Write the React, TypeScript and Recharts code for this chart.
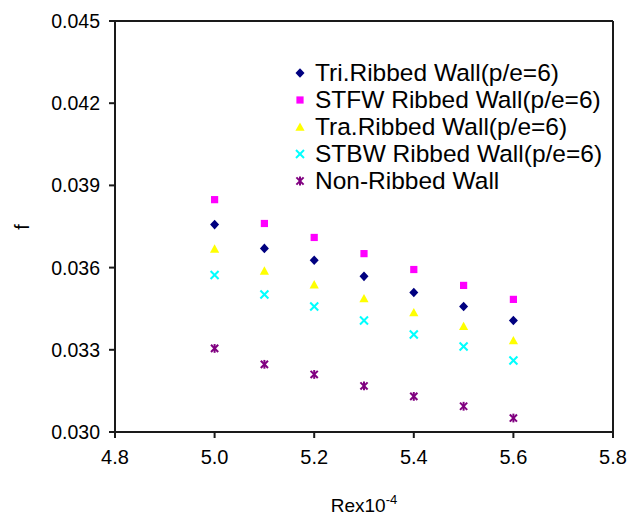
import React from "react";
import {
  ScatterChart,
  Scatter,
  XAxis,
  YAxis,
  Label,
  ReferenceLine,
} from "recharts";

// Re x 10^-4 values shared by every series
const reynolds = [5.0, 5.1, 5.2, 5.3, 5.4, 5.5, 5.6];

// friction factor f per wall type
const triRibbed = [0.03757, 0.0367, 0.03627, 0.03568, 0.03509, 0.03458, 0.03407];
const stfwRibbed = [0.03848, 0.03761, 0.0371, 0.03651, 0.03593, 0.03535, 0.03484];
const traRibbed = [0.03668, 0.03588, 0.03538, 0.03487, 0.03436, 0.03386, 0.03334];
const stbwRibbed = [0.03573, 0.03502, 0.03458, 0.03407, 0.03356, 0.03312, 0.03261];
const nonRibbed = [0.03305, 0.03247, 0.0321, 0.03168, 0.0313, 0.03094, 0.03051];

const xTicks = [4.8, 5.0, 5.2, 5.4, 5.6, 5.8];
const yTicks = [0.03, 0.033, 0.036, 0.039, 0.042, 0.045];

const FONT = "'Liberation Sans', Arial, sans-serif";
const AXIS = "#1a1a1a";

type ShapeKind = "diamond" | "square" | "triangle" | "x" | "asterisk";

function Marker({ kind, cx, cy, color }: { kind: ShapeKind; cx: number; cy: number; color: string }) {
  switch (kind) {
    case "diamond":
      return (
        <polygon
          points={`${cx},${cy - 4.8} ${cx + 4.5},${cy} ${cx},${cy + 4.8} ${cx - 4.5},${cy}`}
          fill={color}
        />
      );
    case "square":
      return <rect x={cx - 3.6} y={cy - 3.6} width={7.2} height={7.2} fill={color} />;
    case "triangle":
      return (
        <polygon
          points={`${cx},${cy - 4.6} ${cx + 4.6},${cy + 3.8} ${cx - 4.6},${cy + 3.8}`}
          fill={color}
        />
      );
    case "x":
      return (
        <g stroke={color} strokeWidth={2}>
          <line x1={cx - 4} y1={cy - 4} x2={cx + 4} y2={cy + 4} />
          <line x1={cx - 4} y1={cy + 4} x2={cx + 4} y2={cy - 4} />
        </g>
      );
    default:
      return (
        <g stroke={color} strokeWidth={2}>
          <line x1={cx - 3.6} y1={cy - 3.6} x2={cx + 3.6} y2={cy + 3.6} />
          <line x1={cx - 3.6} y1={cy + 3.6} x2={cx + 3.6} y2={cy - 3.6} />
          <line x1={cx} y1={cy - 4.4} x2={cx} y2={cy + 4.4} />
        </g>
      );
  }
}

const series: { name: string; color: string; kind: ShapeKind; values: number[] }[] = [
  { name: "Tri.Ribbed Wall(p/e=6)", color: "#000080", kind: "diamond", values: triRibbed },
  { name: "STFW Ribbed Wall(p/e=6)", color: "#FF00FF", kind: "square", values: stfwRibbed },
  { name: "Tra.Ribbed Wall(p/e=6)", color: "#FFFF00", kind: "triangle", values: traRibbed },
  { name: "STBW Ribbed Wall(p/e=6)", color: "#00FFFF", kind: "x", values: stbwRibbed },
  { name: "Non-Ribbed Wall", color: "#800080", kind: "asterisk", values: nonRibbed },
];

// legend overlaid inside the plot area, top right
function LegendBox() {
  return (
    <div
      style={{
        position: "absolute",
        left: 293,
        top: 59,
        fontFamily: FONT,
        fontSize: 24.5,
        color: "#000",
      }}
    >
      {series.map((s) => (
        <div key={s.name} style={{ display: "flex", alignItems: "center", height: 27, whiteSpace: "nowrap" }}>
          <svg width={14} height={14} style={{ marginRight: 8 }}>
            <Marker kind={s.kind} cx={7} cy={7} color={s.color} />
          </svg>
          <span style={{ lineHeight: "27px" }}>{s.name}</span>
        </div>
      ))}
    </div>
  );
}

export default function App() {
  return (
    <div style={{ position: "absolute", left: 0, top: 0, width: 629, height: 519, background: "#fff" }}>
      <ScatterChart width={629} height={519} margin={{ top: 21, right: 16, bottom: 0, left: 0 }}>
        <XAxis
          type="number"
          dataKey="x"
          domain={[4.8, 5.8]}
          ticks={xTicks}
          tickFormatter={(v: number) => v.toFixed(1)}
          height={87}
          stroke={AXIS}
          strokeWidth={2}
          tickSize={6}
          tickMargin={12}
          tick={{ fontSize: 20, fill: "#000", fontFamily: FONT }}
        >
          <Label
            content={({ viewBox }: any) => (
              <text
                x={viewBox.x + viewBox.width / 2}
                y={512}
                textAnchor="middle"
                fontSize={19}
                fontFamily={FONT}
                fill="#000"
              >
                Rex10
                <tspan dy={-8} fontSize={13}>
                  -4
                </tspan>
              </text>
            )}
          />
        </XAxis>
        <YAxis
          type="number"
          dataKey="y"
          domain={[0.03, 0.045]}
          ticks={yTicks}
          tickFormatter={(v: number) => v.toFixed(3)}
          width={115}
          stroke={AXIS}
          strokeWidth={2}
          tickSize={6}
          tickMargin={9}
          tick={{ fontSize: 19.5, fill: "#000", fontFamily: FONT }}
        >
          <Label
            content={() => (
              <text
                x={22}
                y={227}
                transform="rotate(-90 22 227)"
                textAnchor="middle"
                dominantBaseline="central"
                fontSize={20}
                fontFamily={FONT}
                fill="#000"
              >
                f
              </text>
            )}
          />
        </YAxis>
        <ReferenceLine y={0.045} stroke={AXIS} strokeWidth={2} />
        <ReferenceLine x={5.8} stroke={AXIS} strokeWidth={2} />
        {series.map((s) => (
          <Scatter
            key={s.name}
            name={s.name}
            data={reynolds.map((x, i) => ({ x, y: s.values[i] }))}
            fill={s.color}
            isAnimationActive={false}
            shape={(p: any) => <Marker kind={s.kind} cx={p.cx} cy={p.cy} color={s.color} />}
          />
        ))}
      </ScatterChart>
      <LegendBox />
    </div>
  );
}
